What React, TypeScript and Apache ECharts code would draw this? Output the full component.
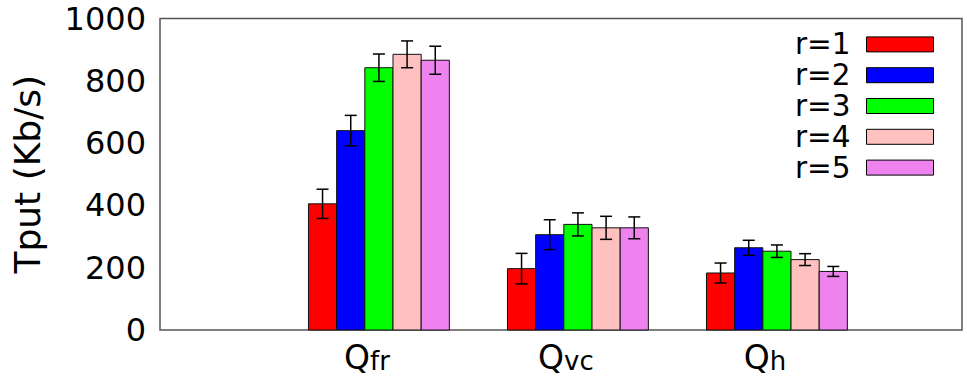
import React, { useEffect, useRef } from "react";
import * as echarts from "echarts";

// Query groups along the x axis (drawn as Q with a subscript)
const categories = ["fr", "vc", "h"];
const seriesNames = ["r=1", "r=2", "r=3", "r=4", "r=5"];
const seriesColors = ["#ff0000", "#0000ff", "#00ff00", "#ffc0c0", "#ee82ee"];

// Mean throughput (Kb/s) per query group, one array per r
const r1 = [405, 197, 183];
const r2 = [640, 306, 264];
const r3 = [842, 339, 253];
const r4 = [885, 328, 226];
const r5 = [866, 328, 188];

// Error bar half-widths (Kb/s)
const r1Err = [47, 49, 32];
const r2Err = [49, 48, 24];
const r3Err = [44, 37, 20];
const r4Err = [43, 37, 19];
const r5Err = [45, 35, 16];

const yTicks = [0, 200, 400, 600, 800, 1000];

const means = [r1, r2, r3, r4, r5];
const errs = [r1Err, r2Err, r3Err, r4Err, r5Err];

const FONT = "DejaVu Sans";
const BAR_W = 0.1416; // bar width in x-axis units
const CAP = 6; // half-width of error bar caps, px

export default function App() {
  const ref = useRef<HTMLDivElement>(null);

  useEffect(() => {
    if (!ref.current) return;
    const chart = echarts.init(ref.current, null, { renderer: "svg" });

    const renderItem = (params: any, api: any) => {
      const cat = api.value(0);
      const v = api.value(1);
      const e = api.value(2);
      const k = params.seriesIndex;
      const xc = cat + (k - 2) * BAR_W;
      const p0 = api.coord([xc - BAR_W / 2, v]);
      const p1 = api.coord([xc + BAR_W / 2, 0]);
      const top = api.coord([xc, v + e]);
      const bot = api.coord([xc, v - e]);
      const lineStyle = { stroke: "#000", lineWidth: 1.5 };
      return {
        type: "group",
        children: [
          {
            type: "rect",
            shape: { x: p0[0], y: p0[1], width: p1[0] - p0[0], height: p1[1] - p0[1] },
            style: { fill: api.visual("color"), stroke: "#111", lineWidth: 1 },
          },
          {
            type: "line",
            shape: { x1: top[0], y1: top[1], x2: bot[0], y2: bot[1] },
            style: lineStyle,
          },
          {
            type: "line",
            shape: { x1: top[0] - CAP, y1: top[1], x2: top[0] + CAP, y2: top[1] },
            style: lineStyle,
          },
          {
            type: "line",
            shape: { x1: bot[0] - CAP, y1: bot[1], x2: bot[0] + CAP, y2: bot[1] },
            style: lineStyle,
          },
        ],
      };
    };

    const series = seriesNames.map((name, k) => ({
      name,
      type: "custom",
      renderItem,
      itemStyle: { color: seriesColors[k] },
      encode: { x: 0, y: 1 },
      data: categories.map((_, i) => [i, means[k][i], errs[k][i]]),
    }));

    chart.setOption({
      animation: false,
      grid: {
        left: 160,
        right: 5,
        top: 18.5,
        bottom: 55,
        show: true,
        borderColor: "#555",
        borderWidth: 1.5,
        backgroundColor: "transparent",
      },
      legend: {
        orient: "vertical",
        align: "right",
        right: 28,
        top: 24,
        itemWidth: 67,
        itemHeight: 15,
        itemGap: 0,
        icon: "rect",
        selectedMode: false,
        textStyle: {
          fontFamily: FONT,
          fontSize: 29.5,
          color: "#000",
          lineHeight: 30.8,
          padding: [0, 11, 0, 0],
        },
        data: seriesNames.map((name, k) => ({
          name,
          itemStyle: { color: seriesColors[k], borderColor: "#000", borderWidth: 1 },
        })),
      },
      xAxis: {
        type: "value",
        min: -1.1,
        max: 2.93,
        splitLine: { show: false },
        axisLine: { show: false },
        axisTick: { show: false },
        axisLabel: {
          customValues: [0, 1, 2],
          margin: 8,
          formatter: (v: number) => `{q|Q}{s|${categories[Math.round(v)]}}{g|}`,
          rich: {
            q: { fontFamily: FONT, fontSize: 33, color: "#000", verticalAlign: "bottom", lineHeight: 36 },
            s: { fontFamily: FONT, fontSize: 26, color: "#000", verticalAlign: "bottom", lineHeight: 24 },
            g: { width: 24 },
          },
        },
      },
      yAxis: {
        type: "value",
        min: 0,
        max: 1000,
        interval: 200,
        name: "Tput (Kb/s)",
        nameLocation: "middle",
        nameGap: 115,
        nameTextStyle: { fontFamily: FONT, fontSize: 36, color: "#000" },
        splitLine: { show: false },
        axisLine: { show: false },
        axisTick: { show: false },
        axisLabel: {
          customValues: yTicks,
          margin: 14,
          fontFamily: FONT,
          fontSize: 32,
          color: "#000",
          formatter: (v: number) => String(v),
        },
      },
      series,
    });

    return () => chart.dispose();
  }, []);

  return <div ref={ref} style={{ width: 967, height: 385, position: "absolute", left: 0, top: 0 }} />;
}
